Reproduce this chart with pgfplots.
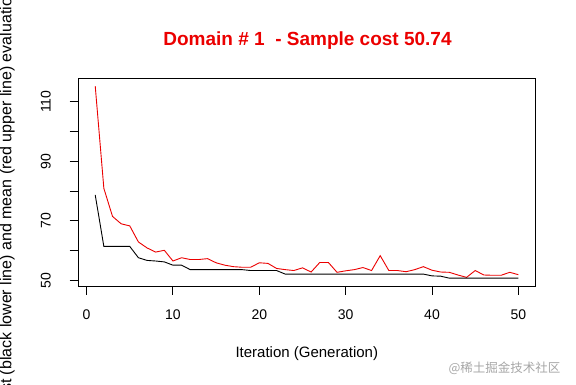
\documentclass[border=0pt]{standalone}
\usepackage{pgfplots}
\pgfplotsset{compat=1.18}
\usepackage{fontspec}
\setmainfont{Liberation Sans}
\newfontfamily\cjk{Noto Sans CJK SC}
\definecolor{rred}{RGB}{235,0,0}
\begin{document}
\begin{tikzpicture}[x=1pt,y=1pt]
\useasboundingbox (0,0) rectangle (576,384);
\begin{axis}[
  at={(78.3pt,98pt)}, anchor=south west,
  scale only axis, width=457pt, height=207.7pt,
  xmin=-0.96, xmax=51.96, ymin=48.1, ymax=117.9,
  xtick={0,10,...,50}, ytick={50,60,...,110},
  yticklabels={50,,70,,90,,110},
  tick pos=left, tick align=outside, major tick length=8.7pt,
  tick style={black, line width=0.9pt},
  axis line style={line width=0.9pt},
  /pgf/number format/assume math mode=true,
  ticklabel style={font=\fontsize{14}{16}\selectfont},
  xticklabel style={anchor=base, yshift=-25pt},
  yticklabel style={rotate=90, anchor=base, yshift=19pt},
  clip=true,
]
\addplot[rred, line width=0.9pt] coordinates {
(1,115.3)(2,80.9)(3,71.5)(4,69.0)(5,68.3)(6,62.9)(7,60.9)(8,59.5)(9,60.1)(10,56.5)
(11,57.6)(12,57.0)(13,57.0)(14,57.3)(15,55.9)(16,55.1)(17,54.6)(18,54.4)(19,54.4)(20,55.9)
(21,55.7)(22,54.0)(23,53.6)(24,53.3)(25,54.2)(26,52.8)(27,56.0)(28,56.0)(29,52.7)(30,53.2)
(31,53.6)(32,54.3)(33,53.3)(34,58.3)(35,53.3)(36,53.3)(37,52.9)(38,53.6)(39,54.6)(40,53.4)
(41,52.8)(42,52.7)(43,51.8)(44,51.0)(45,53.3)(46,51.8)(47,51.7)(48,51.7)(49,52.7)(50,51.9)
};
\addplot[black, line width=0.9pt] coordinates {
(1,78.7)(2,61.4)(3,61.4)(4,61.4)(5,61.4)(6,57.6)(7,56.7)(8,56.5)(9,56.2)(10,55.1)
(11,55.1)(12,53.6)(13,53.6)(14,53.6)(15,53.6)(16,53.6)(17,53.6)(18,53.6)(19,53.3)(20,53.3)
(21,53.3)(22,53.3)(23,52.1)(24,52.1)(25,52.1)(26,52.1)(27,52.1)(28,52.1)(29,52.1)(30,52.1)
(31,52.1)(32,52.1)(33,52.1)(34,52.1)(35,52.1)(36,52.1)(37,52.1)(38,52.1)(39,52.1)(40,51.5)
(41,51.4)(42,50.74)(43,50.74)(44,50.74)(45,50.74)(46,50.74)(47,50.74)(48,50.74)(49,50.74)(50,50.74)
};
\end{axis}
\node[anchor=base, text=rred, font=\fontsize{19}{21}\selectfont\bfseries] at (307.5,338) {Domain \# 1\ \ - Sample cost 50.74};
\node[anchor=base, font=\fontsize{15}{17}\selectfont] at (306.8,27) {Iteration (Generation)};
\node[anchor=base west, rotate=90, font=\fontsize{16}{18}\selectfont] at (11.5,-31) {Best (black lower line) and mean (red upper line) evaluation};
\node[anchor=base east, text=black!35, font=\cjk\fontsize{12.5}{14}\selectfont] at (564,12) {@稀土掘金技术社区};
\end{tikzpicture}
\end{document}
